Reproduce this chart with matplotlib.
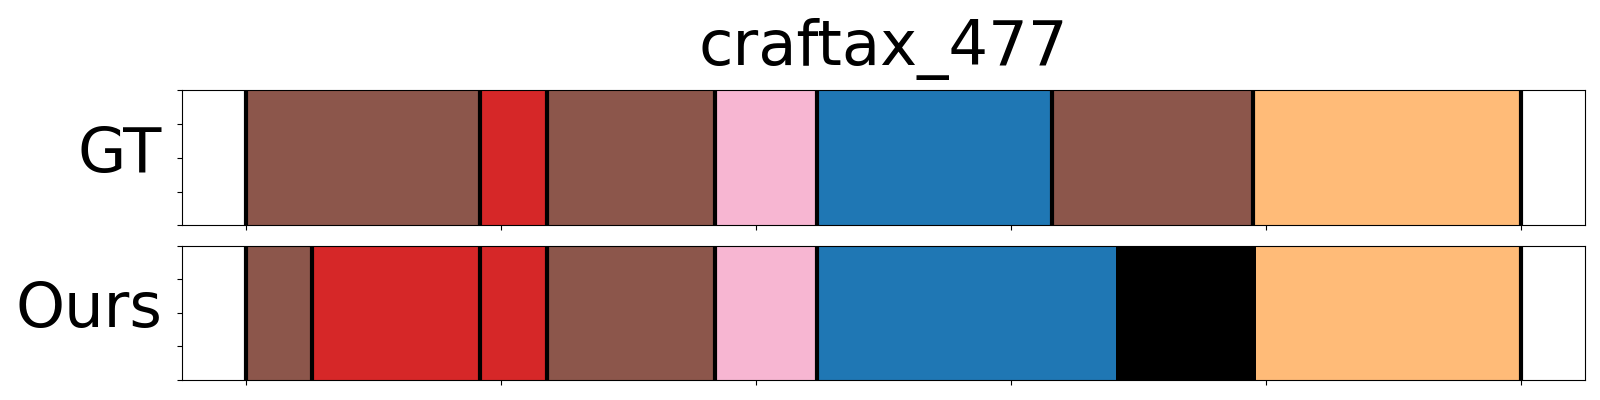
import matplotlib
matplotlib.use("Agg")
import matplotlib.pyplot as plt

# Segment data (time steps), one list per row
TITLE = "craftax_477"
ROW_LABELS = ["GT", "Ours"]

GT_STARTS = [0, 92, 118, 184, 224, 316, 395]
GT_ENDS = [92, 118, 184, 224, 316, 395, 500]
GT_COLORS = ["#8c564b", "#d62728", "#8c564b", "#f7b6d2", "#1f77b4", "#8c564b", "#ffbb78"]
GT_LINES = [0, 92, 118, 184, 224, 316, 395, 500]

OURS_STARTS = [0, 26, 92, 118, 184, 224, 341, 396]
OURS_ENDS = [26, 92, 118, 184, 224, 341, 396, 500]
OURS_COLORS = ["#8c564b", "#d62728", "#d62728", "#8c564b", "#f7b6d2", "#1f77b4", "#000000", "#ffbb78"]
OURS_LINES = [0, 26, 92, 118, 184, 224, 500]

X_TICKS = [0, 100, 200, 300, 400, 500]
Y_TICKS = [0, 0.25, 0.5, 0.75, 1.0]


def draw_row(ax, starts, ends, colors, lines, label):
    widths = [e - s for s, e in zip(starts, ends)]
    ax.barh(0.5, widths, left=starts, height=1.0, color=colors, zorder=1)
    for x in lines:
        ax.axvline(x, color="black", linewidth=3, zorder=2)
    ax.set_xlim(-25, 525)
    ax.set_ylim(0, 1)
    ax.set_xticks(X_TICKS)
    ax.set_xticklabels([])
    ax.set_yticks(Y_TICKS)
    ax.set_yticklabels([])
    ax.set_ylabel(label, fontsize=45, rotation=0, ha="right", va="center")
    ax.yaxis.set_label_coords(-0.0140, 0.52)


fig = plt.figure(figsize=(16, 4), dpi=100)
ax1 = fig.add_axes([0.1136, 0.437, 0.8770, 0.337])
ax2 = fig.add_axes([0.1136, 0.050, 0.8770, 0.336])

draw_row(ax1, GT_STARTS, GT_ENDS, GT_COLORS, GT_LINES, ROW_LABELS[0])
draw_row(ax2, OURS_STARTS, OURS_ENDS, OURS_COLORS, OURS_LINES, ROW_LABELS[1])

ax1.set_title(TITLE, fontsize=45, pad=18)

fig.savefig("out.png", dpi=100)
